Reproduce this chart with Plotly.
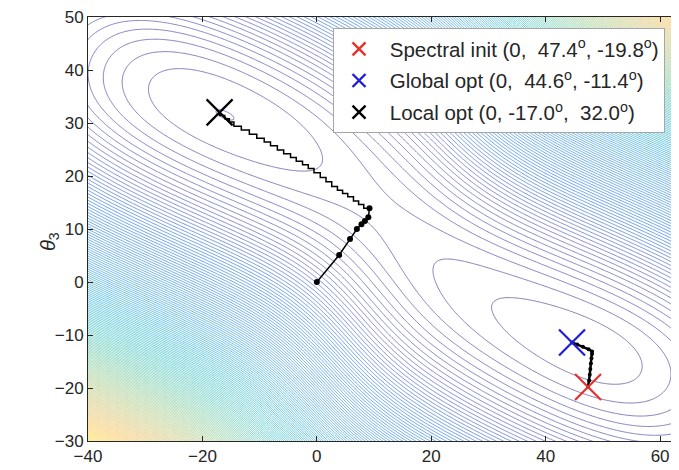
import numpy as np
import plotly.graph_objects as go

# ---- data ----
x_ticks = [-40, -20, 0, 20, 40, 60]
y_ticks = [-30, -20, -10, 0, 10, 20, 30, 40, 50]

spectral_init = (47.4, -19.8)
global_opt = (44.6, -11.4)
local_opt = (-17.0, 32.0)

legend_labels = [
    "Spectral init (0,\u00a0 47.4<sup>o</sup>, -19.8<sup>o</sup>)",
    "Global opt (0,\u00a0 44.6<sup>o</sup>, -11.4<sup>o</sup>)",
    "Local opt (0, -17.0<sup>o</sup>,\u00a0 32.0<sup>o</sup>)",
]

# path from origin (dotted part)
path0_x = [0.0, 3.9, 5.8, 7.0, 7.8, 8.4, 9.0, 9.2]
path0_y = [0.0, 5.1, 8.1, 10.0, 10.9, 11.5, 12.2, 13.9]
# staircase part towards local optimum
stair_x = [9.2, 8.2, 7.3, 6.4, 5.4, 4.5, 3.6, 2.6, 1.6, 0.6, -0.5, -1.5, -2.5,
           -3.6, -4.6, -5.8, -6.9, -8.1, -9.2, -10.5, -11.8, -13.2, -14.5,
           -15.3, -16.1, -17.0]
stair_y = [13.9, 14.6, 15.3, 16.1, 16.7, 17.3, 18.0, 18.9, 19.7, 20.6, 21.4,
           22.1, 22.8, 23.5, 24.2, 24.9, 25.7, 26.4, 27.1, 27.9, 28.7, 29.4,
           30.2, 30.8, 31.4, 32.0]
# short path from spectral init to global optimum
path1_x = [47.4, 47.6, 47.7, 47.8, 47.9, 48.0, 48.1, 48.1, 47.5, 46.5, 45.5, 44.6]
path1_y = [-19.8, -18.6, -17.5, -16.4, -15.4, -14.4, -13.6, -13.1, -12.7, -12.2, -11.8, -11.4]

# parula colormap (MATLAB), subsampled
parula = [
    (0.2081, 0.1663, 0.5292), (0.1959, 0.2645, 0.7279), (0.0117, 0.3875, 0.8820),
    (0.0498, 0.4586, 0.8641), (0.0793, 0.5200, 0.8312), (0.0343, 0.5966, 0.8199),
    (0.0228, 0.6535, 0.7768), (0.0843, 0.6928, 0.7062), (0.2178, 0.7250, 0.6193),
    (0.3953, 0.7459, 0.5244), (0.5709, 0.7485, 0.4494), (0.7184, 0.7411, 0.3905),
    (0.8507, 0.7299, 0.3360), (0.9739, 0.7314, 0.2666), (0.9880, 0.8066, 0.1794),
    (0.9589, 0.8949, 0.1132), (0.9763, 0.9831, 0.0538),
]
colorscale = [[i / (len(parula) - 1), "rgb(%d,%d,%d)" % tuple(int(round(c * 255)) for c in col)]
              for i, col in enumerate(parula)]

# ---- loss landscape model (double well along a tilted valley) ----
gx = np.linspace(-41, 64.5, 541)
gy = np.linspace(-31, 51, 421)
X, Y = np.meshgrid(gx, gy)
cx, cy = 13.8, 10.3
U = (X - cx) * 0.9015 + (Y - cy) * (-0.4327)
V = (X - cx) * 0.4327 + (Y - cy) * 0.9015
P = U / 37.16
S = -6.32 * np.tanh(U / 15.0)
D = V - S
Z = (1.21 * (P ** 2 - 1) ** 2 - 0.36 * P + 0.9 * np.exp(-((P + 0.12) / 0.4) ** 2)
     + D ** 2 / 26.0 - 2.03 * (1 - np.exp(-D ** 2 / 144.0)))
Z = np.round(Z, 3)
zmin = float(Z.min())
start = zmin + 0.74
end = start + 182

fig = go.Figure()
fig.add_trace(go.Contour(
    x=gx, y=gy, z=Z,
    autocontour=False,
    contours=dict(start=start, end=end, size=1.0, coloring="lines"),
    line=dict(width=0.6),
    colorscale=colorscale,
    showscale=False,
    hoverinfo="skip",
    showlegend=False,
))

# paths
fig.add_trace(go.Scatter(x=stair_x, y=stair_y, mode="lines", line=dict(color="black", width=1.5, shape="hv"),
                         showlegend=False, hoverinfo="skip"))
fig.add_trace(go.Scatter(x=path0_x, y=path0_y, mode="lines+markers", line=dict(color="black", width=1.5),
                         marker=dict(color="black", size=6), showlegend=False, hoverinfo="skip"))
fig.add_trace(go.Scatter(x=path1_x, y=path1_y, mode="lines+markers", line=dict(color="black", width=2.5),
                         marker=dict(color="black", size=4), showlegend=False, hoverinfo="skip"))

# big X markers
for pt, col in [(local_opt, "black"), (global_opt, "#1f1fd6"), (spectral_init, "#e8312e")]:
    fig.add_trace(go.Scatter(x=[pt[0]], y=[pt[1]], mode="markers",
                             marker=dict(symbol="x-thin", size=26, line=dict(color=col, width=2.2)),
                             showlegend=False, hoverinfo="skip"))

# legend-only entries
for lab, col, grp in zip(legend_labels, ["#e8312e", "#1f1fd6", "black"], ["a", "b", "c"]):
    fig.add_trace(go.Scatter(x=[None], y=[None], mode="markers", name="\u00a0" + lab, legendgroup=grp,
                             marker=dict(symbol="x-thin", size=13, line=dict(color=col, width=2.4))))

axis_font = dict(family="Liberation Sans, Arial, sans-serif", size=17, color="#262626")
# the page body adds an 8px offset; margins compensate for it
fig.update_layout(
    width=679, height=470,
    margin=dict(l=80, r=8, t=9, b=37),
    paper_bgcolor="white", plot_bgcolor="white",
    font=axis_font,
    showlegend=True,
    legend=dict(x=0.4146, y=0.974, xanchor="left", yanchor="top",
                bgcolor="white", bordercolor="#a6a6a6", borderwidth=1,
                font=dict(family="Liberation Sans, Arial, sans-serif", size=20.5, color="#262626"),
                itemwidth=40, tracegroupgap=2, traceorder="grouped"),
    xaxis=dict(range=[-40, 63.3], tickvals=x_ticks, ticks="inside", ticklen=5, tickcolor="#262626",
               showline=True, linecolor="#262626", linewidth=1, mirror="ticks", showgrid=False,
               zeroline=False, tickfont=axis_font, automargin=False, ticklabeloverflow="allow"),
    yaxis=dict(range=[-30, 50], tickvals=y_ticks, ticks="inside", ticklen=5, tickcolor="#262626",
               showline=True, linecolor="#262626", linewidth=1, mirror=False, showgrid=False,
               zeroline=False, tickfont=axis_font, automargin=False, ticklabeloverflow="allow"),
    annotations=[dict(text="<i>θ</i><sub>3</sub>", xref="paper", yref="paper",
                      x=-0.09, y=0.47, textangle=-90, showarrow=False,
                      font=dict(family="Liberation Sans, Arial, sans-serif", size=20, color="#262626"))],
)

fig.write_html("out.html")
